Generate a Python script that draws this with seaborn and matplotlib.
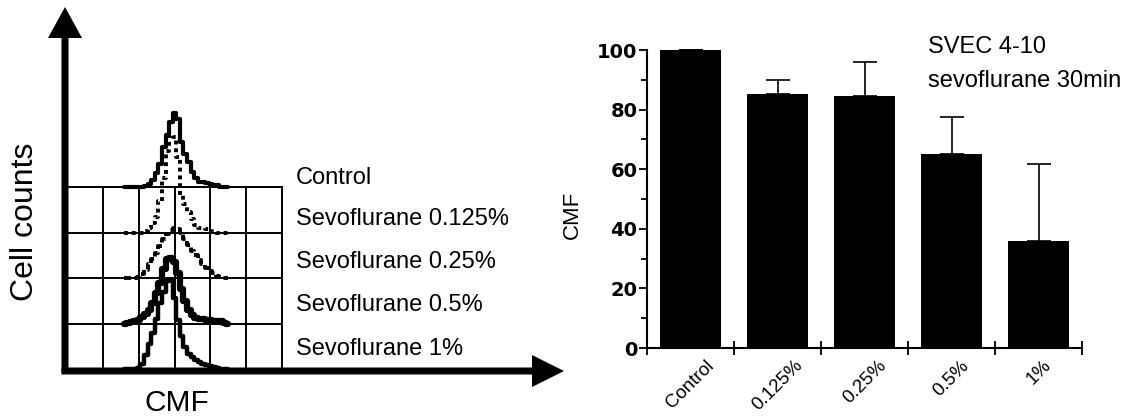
import numpy as np
import matplotlib
matplotlib.use('Agg')
import matplotlib.pyplot as plt
from matplotlib.patches import Polygon
from matplotlib.ticker import MultipleLocator, FixedLocator
import seaborn as sns

sns.set_theme(style='ticks', rc={'axes.edgecolor': 'black', 'text.color': 'black',
                                 'xtick.color': 'black', 'ytick.color': 'black'})
plt.rcParams['font.family'] = ['Liberation Sans', 'DejaVu Sans']

# flow histograms: channel position (in grid columns) and counts (in grid rows)
channel = [1.6, 1.7, 1.8, 1.9, 2.0, 2.1, 2.2, 2.3, 2.4, 2.5,
           2.6, 2.7, 2.8, 2.9, 3.0, 3.1, 3.2, 3.3, 3.4, 3.5,
           3.6, 3.7, 3.8, 3.9, 4.0, 4.1, 4.2, 4.3, 4.4, 4.5]
hist_control = [0, 0, 0, 0, 0, 0, 0.02, 0.07, 0.15, 0.30,
                0.50, 0.88, 1.15, 1.42, 1.62, 1.50, 1.00, 0.72, 0.55, 0.33,
                0.20, 0.12, 0.10, 0.09, 0.07, 0.05, 0.04, 0.01, 0, 0]
hist_0125 = [0, 0, 0, 0, 0, 0, 0.03, 0.10, 0.20, 0.35,
             0.70, 1.20, 1.80, 2.15, 2.10, 1.65, 0.82, 0.62, 0.45, 0.30,
             0.16, 0.10, 0.09, 0.07, 0.04, 0.02, 0, 0, 0, 0]
hist_025 = [0, 0, 0, 0, 0.02, 0.08, 0.18, 0.30, 0.42, 0.55,
            0.70, 0.85, 0.97, 1.05, 1.09, 1.07, 1.00, 0.85, 0.72, 0.60,
            0.50, 0.40, 0.30, 0.22, 0.15, 0.10, 0.05, 0.02, 0, 0]
hist_05 = [0, 0.02, 0.04, 0.06, 0.08, 0.14, 0.20, 0.30, 0.45, 0.68,
           0.90, 1.20, 1.42, 1.45, 1.35, 1.10, 0.75, 0.50, 0.30, 0.18,
           0.13, 0.10, 0.09, 0.08, 0.07, 0.06, 0.05, 0.05, 0.02, 0]
hist_1 = [0, 0, 0, 0, 0.02, 0.12, 0.30, 0.55, 0.80, 1.10,
          1.45, 1.70, 1.93, 1.95, 1.55, 1.08, 0.72, 0.48, 0.33, 0.26,
          0.20, 0.15, 0.11, 0.09, 0.06, 0.04, 0.02, 0, 0, 0]
hist_labels = ['Control', 'Sevoflurane 0.125%', 'Sevoflurane 0.25%',
               'Sevoflurane 0.5%', 'Sevoflurane 1%']

# bar chart
groups = ['Control', '0.125%', '0.25%', '0.5%', '1%']
cmf_mean = [100, 85.3, 84.7, 65.0, 36.0]
cmf_sd = [0, 4.7, 11.3, 12.5, 25.8]

W, H = 1141, 420
fig = plt.figure(figsize=(W / 100, H / 100), dpi=100)

# ---- left panel: stacked histograms on a grid ----
ax1 = fig.add_axes([67 / W, 51 / H, 215 / W, 182 / H])
ax1.set_xlim(0, 6)
ax1.set_ylim(0, 4)
ax1.set_xticks(range(7))
ax1.set_yticks(range(5))
ax1.grid(True, color='black', lw=1.4)
ax1.tick_params(length=0, labelbottom=False, labelleft=False)
for side in ['left', 'bottom']:
    ax1.spines[side].set_visible(False)
for side in ['top', 'right']:
    ax1.spines[side].set_linewidth(1.4)
    ax1.spines[side].set_color('black')

hists = [hist_control, hist_0125, hist_025, hist_05, hist_1]
styles = [dict(ls='-', lw=3.0), dict(ls=(0, (1, 1)), lw=2.8),
          dict(ls=(0, (1.8, 0.9)), lw=2.8), dict(ls='-', lw=4.5), dict(ls='-', lw=3.2)]
label_y = [4.2, 3.3, 2.35, 1.4, 0.45]
for i, (counts, st) in enumerate(zip(hists, styles)):
    base = 4 - i
    ax1.plot(channel, base + np.array(counts), drawstyle='steps-mid',
             color='black', clip_on=False, zorder=3, **st)
    ax1.text(6.39, label_y[i], hist_labels[i], fontsize=17, va='center', ha='left')

# axis arrows
deco = fig.add_axes([0, 0, 1, 1], zorder=5)
deco.set_xlim(0, W)
deco.set_ylim(H, 0)
deco.axis('off')
deco.patch.set_alpha(0)
deco.add_patch(Polygon([(61.5, 373), (68.5, 373), (68.5, 38), (82, 38), (65, 7),
                        (48, 38), (61.5, 38)], closed=True, color='black', lw=0))
deco.add_patch(Polygon([(61.5, 367.5), (532, 367.5), (532, 355), (564, 371),
                        (532, 387), (532, 374.5), (61.5, 374.5)], closed=True,
                       color='black', lw=0))
fig.text(25 / W, 1 - 222 / H, 'Cell counts', rotation=90, fontsize=23,
         ha='center', va='center')
fig.text(177 / W, 1 - 403 / H, 'CMF', fontsize=21.5, ha='center', va='center')

# ---- right panel: bar chart ----
ax2 = fig.add_axes([647 / W, 72 / H, 435 / W, 298 / H])
sns.barplot(x=groups, y=cmf_mean, color='black', saturation=1, width=0.69,
            edgecolor='black', linewidth=0, zorder=2, ax=ax2)
ax2.errorbar(range(len(groups)), cmf_mean, yerr=[np.zeros(len(groups)), cmf_sd],
             fmt='none', ecolor='black', elinewidth=1.2, capsize=8.3,
             capthick=1.2, clip_on=False, zorder=1)
ax2.set_xlim(-0.5, 4.5)
ax2.set_ylim(0, 100)
ax2.set_yticks([0, 20, 40, 60, 80, 100])
ax2.yaxis.set_minor_locator(MultipleLocator(10))
ax2.xaxis.set_minor_locator(FixedLocator([-0.5, 0.5, 1.5, 2.5, 3.5, 4.5]))
ax2.tick_params(axis='x', which='major', length=0, pad=6.5)
ax2.tick_params(axis='x', which='minor', direction='inout', length=9.5, width=1.3)
ax2.tick_params(axis='y', which='major', direction='out', length=6, width=1.3, pad=1)
ax2.tick_params(axis='y', which='minor', direction='out', length=4, width=1.3)
ax2.set_xticks(range(len(groups)))
ax2.set_xticklabels(groups, rotation=45, ha='center', va='top', fontsize=13.5)
for lab in ax2.get_yticklabels():
    lab.set_fontfamily('DejaVu Sans')
    lab.set_fontweight('bold')
    lab.set_fontsize(14)
ax2.set_xlabel('')
ax2.set_ylabel('')
sns.despine(ax=ax2)
for side in ['left', 'bottom']:
    ax2.spines[side].set_linewidth(1.5)
fig.text(572 / W, 1 - 215 / H, 'CMF', rotation=90, fontsize=16,
         ha='center', va='center')
fig.text(928 / W, 1 - 53 / H, 'SVEC 4-10', fontsize=17, va='baseline')
fig.text(928 / W, 1 - 87 / H, 'sevoflurane 30min', fontsize=17, va='baseline')

fig.savefig('out.png', dpi=100)
